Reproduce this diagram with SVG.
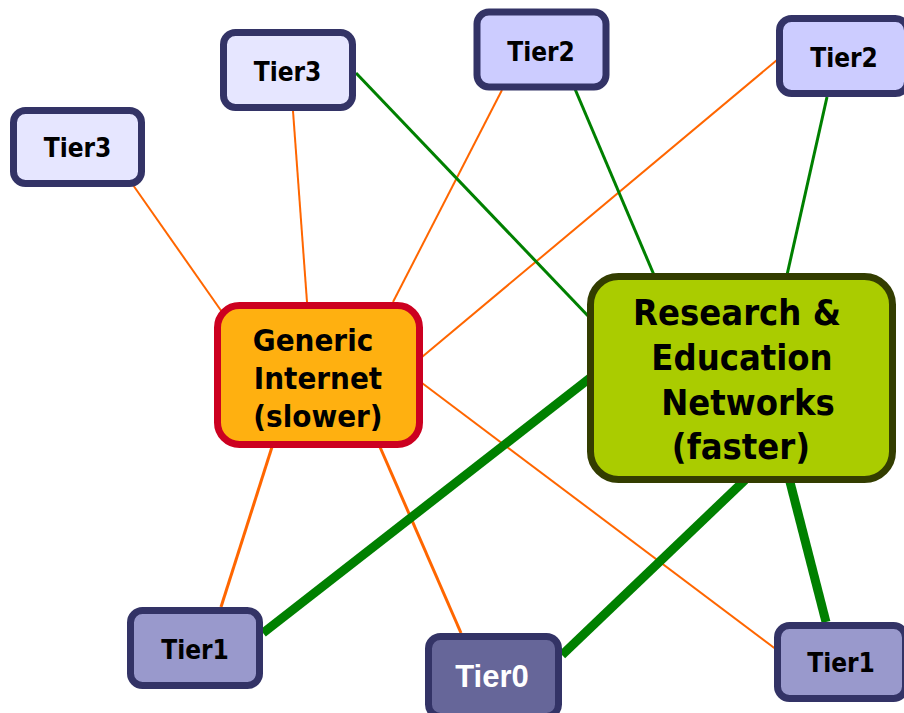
<svg xmlns="http://www.w3.org/2000/svg" width="904" height="713" viewBox="0 0 904 713">
  <style>
    .bg { fill: #ffffff; }
    .tier { stroke: #333366; stroke-width: 7; }
    .t3 { fill: #e6e6ff; }
    .t2 { fill: #ccccff; }
    .t1 { fill: #9999cc; }
    .t0 { fill: #666699; }
    .lbl { font-family: "DejaVu Sans Condensed", "DejaVu Sans", sans-serif; font-stretch: condensed; font-weight: bold; fill: #000000; text-anchor: middle; }
    .small { font-size: 26px; }
    .t0lbl { font-family: "Liberation Sans", Arial, sans-serif; font-weight: bold; font-size: 31px; fill: #ffffff; text-anchor: middle; }
    .slow { stroke: #ff6600; stroke-width: 2; fill: none; }
    .slow.heavy { stroke-width: 3; }
    .fast { stroke: #008000; stroke-width: 3; fill: none; }
    .trunk { stroke: #008000; stroke-width: 9; fill: none; }
  </style>
  <rect class="bg" x="0" y="0" width="904" height="713"/>

  <g id="connectors">
    <!-- commodity links into the generic internet -->
    <line class="slow" x1="133" y1="185" x2="222" y2="312"/>
    <line class="slow" x1="293" y1="111" x2="307" y2="302"/>
    <line class="slow" x1="502" y1="90" x2="393" y2="302"/>
    <line class="slow" x1="777" y1="60" x2="422" y2="357"/>
    <line class="slow heavy" x1="272" y1="447" x2="221" y2="607"/>
    <line class="slow heavy" x1="380" y1="447" x2="461" y2="633"/>
    <line class="slow" stroke-width="2.5" x1="422" y1="383" x2="777" y2="650"/>
    <!-- research network links -->
    <line class="fast" x1="356" y1="73" x2="590" y2="318"/>
    <line class="fast" x1="575" y1="89" x2="654" y2="275"/>
    <line class="fast" x1="827" y1="97" x2="787" y2="275"/>
    <!-- backbone trunks -->
    <line class="trunk" x1="263" y1="633" x2="590" y2="378"/>
    <line class="trunk" x1="562" y1="655" x2="745" y2="480"/>
    <line class="trunk" x1="790" y1="482" x2="826" y2="622"/>
  </g>

  <g id="generic-internet">
    <rect x="217.5" y="305.5" width="202" height="139" rx="22" fill="#ffb010" stroke="#cc0020" stroke-width="7"/>
    <text class="lbl" font-size="31" x="313" y="351">Generic</text>
    <text class="lbl" font-size="31" x="318" y="389">Internet</text>
    <text class="lbl" font-size="31" x="318" y="427">(slower)</text>
  </g>

  <g id="research-education">
    <rect x="590.5" y="276.5" width="302" height="203" rx="28" fill="#aacc00" stroke="#333d00" stroke-width="7"/>
    <text class="lbl" font-size="36" x="737" y="325">Research &amp;</text>
    <text class="lbl" font-size="36" x="742" y="370">Education</text>
    <text class="lbl" font-size="36" x="748" y="415">Networks</text>
    <text class="lbl" font-size="36" x="741" y="459">(faster)</text>
  </g>

  <g id="tier3-left">
    <rect class="tier t3" x="13.5" y="110.5" width="128" height="73" rx="12"/>
    <text class="lbl small" x="77.5" y="157">Tier3</text>
  </g>

  <g id="tier3-mid">
    <rect class="tier t3" x="223.5" y="32.5" width="129" height="75" rx="12"/>
    <text class="lbl small" x="287.5" y="81">Tier3</text>
  </g>

  <g id="tier2-mid">
    <rect class="tier t2" x="477" y="12" width="129" height="75" rx="12"/>
    <text class="lbl small" x="541" y="61">Tier2</text>
  </g>

  <g id="tier2-right">
    <rect class="tier t2" x="779.5" y="18.5" width="128" height="75" rx="12"/>
    <text class="lbl small" x="844" y="67">Tier2</text>
  </g>

  <g id="tier1-left">
    <rect class="tier t1" x="130.5" y="610.5" width="129" height="75" rx="12"/>
    <text class="lbl small" x="195" y="659">Tier1</text>
  </g>

  <g id="tier0">
    <rect class="tier t0" x="428.5" y="636.5" width="130" height="80" rx="12"/>
    <text class="t0lbl" x="492" y="687">Tier0</text>
  </g>

  <g id="tier1-right">
    <rect class="tier t1" x="777.5" y="625.5" width="128" height="73" rx="12"/>
    <text class="lbl small" x="841" y="672">Tier1</text>
  </g>
</svg>
